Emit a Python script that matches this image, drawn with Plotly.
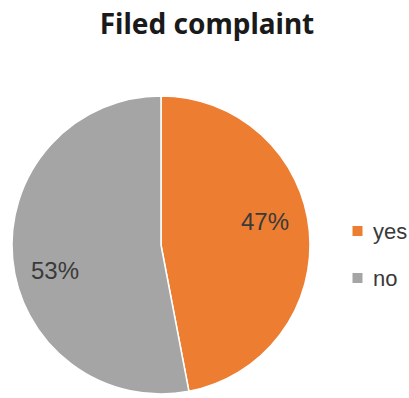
import math
import plotly.graph_objects as go

labels = ["yes", "no"]
values = [47, 53]
colors = ["#ED7D31", "#A5A5A5"]
title_text = "Filed complaint"

W, H = 409, 398
# pie placement (pixels)
cx, cy, r = 161, 245, 149

fig = go.Figure(go.Pie(
    labels=labels,
    values=values,
    sort=False,
    direction="clockwise",
    rotation=0,
    marker=dict(colors=colors, line=dict(color="white", width=1.5)),
    textinfo="none",
    hoverinfo="label+percent",
    showlegend=False,
    domain=dict(x=[(cx - r) / W, (cx + r) / W],
                y=[(H - cy - r) / H, (H - cy + r) / H]),
))

# data labels placed along each slice
total = sum(values)
label_offsets = [(0.715, -7.1), (0.73, -8.4)]  # radial fraction, angular tweak (deg)
start = 0.0
for v, (frac, tweak) in zip(values, label_offsets):
    mid = start + v / total * 360 / 2 + tweak
    ang = math.radians(90 - mid)
    px = cx + frac * r * math.cos(ang)
    py = cy - frac * r * math.sin(ang)
    fig.add_annotation(x=px / W, y=1 - py / H, xref="paper", yref="paper",
                       xanchor="center", yanchor="middle",
                       text=f"{round(v / total * 100)}%", showarrow=False,
                       font=dict(family="Liberation Sans, Arial", size=24, color="#3a3a3a"))
    start += v / total * 360

# legend: square swatches with labels on the right side
leg_x, leg_y0, leg_dy, sw = 357.5, 231, 47, 10
for i, (lab, col) in enumerate(zip(labels, colors)):
    ly = leg_y0 + i * leg_dy
    fig.add_shape(type="rect", xref="paper", yref="paper",
                  x0=(leg_x - sw / 2) / W, x1=(leg_x + sw / 2) / W,
                  y0=1 - (ly + sw / 2) / H, y1=1 - (ly - sw / 2) / H,
                  fillcolor=col, line=dict(width=0))
    fig.add_annotation(x=371 / W, y=1 - ly / H, xref="paper", yref="paper",
                       xanchor="left", yanchor="middle", text=lab, showarrow=False,
                       font=dict(family="Liberation Sans, Arial", size=22, color="#3a3a3a"))

fig.update_layout(
    width=W, height=H,
    margin=dict(l=0, r=0, t=0, b=0),
    paper_bgcolor="white",
    title=dict(text=f"<b>{title_text}</b>", x=207 / W, xanchor="center",
               y=1 - 24 / H, yanchor="middle",
               font=dict(family="Noto Sans, Liberation Sans", size=28, color="#1a1a1a")),
)

fig.write_html("out.html")
